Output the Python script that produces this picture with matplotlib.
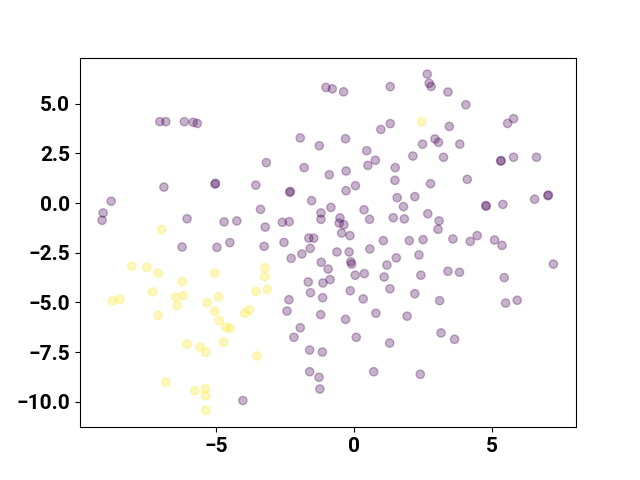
import numpy as np
import matplotlib
matplotlib.use("Agg")
import matplotlib.pyplot as plt

# class 0 points (purple)
x0 = [-7.03, -6.81, -6.14, -5.82, -5.67, -6.88, -5.03, -5.01, -8.79, -9.08,
      -9.12, -6.04, -4.70, -4.24, -4.49, -6.22, -4.96, -1.01, -0.78, -0.37,
      1.32, 1.32, 0.98, -1.94, -0.30, -1.25, 0.47, 0.78, 0.51, 2.14,
      -3.17, -1.80, 1.50, -0.28, -0.89, 1.49, -3.55, 0.06, -0.28, -2.32,
      -2.30, -1.53, 1.57, 2.21, -3.38, -0.83, 0.37, 1.80, -1.19, -1.19,
      -0.50, -0.36, -0.53, -3.21, -2.59, -2.34, 0.57, 1.43, 1.83, -0.44,
      -0.14, -1.63, -1.45, -2.53, -3.25, 1.07, 2.01, -2.27, -1.88, -1.58,
      -0.61, -0.17, -0.11, -0.08, 0.58, 1.54, -1.18, -0.93, 1.20, 0.05,
      0.38, 1.10, -1.65, -1.12, -0.86, -1.57, -0.13, 1.31, 2.21, -1.13,
      0.34, -2.35, -2.42, -1.20, -0.30, 0.80, 1.93, -1.94, -2.17, 0.09,
      1.30, -1.60, -1.14, -1.60, -1.26, -1.23, 0.72, -4.02, 2.66, 2.73,
      2.80, 3.41, 4.06, 3.46, 5.57, 5.79, 2.94, 3.07, 2.49, 3.84,
      3.25, 5.32, 5.34, 5.79, 6.62, 2.78, 4.11, 4.78, 4.80, 5.40,
      6.55, 7.03, 7.05, 2.68, 3.09, 3.05, 2.51, 3.59, 4.22, 4.47,
      5.10, 5.37, 2.36, 2.43, 3.41, 3.83, 5.45, 7.23, 3.11, 5.50,
      5.92, 3.16, 3.65, 2.41]
y0 = [4.09, 4.09, 4.09, 4.06, 4.00, 0.80, 0.95, 0.99, 0.09, -0.50,
      -0.87, -0.79, -0.95, -0.90, -1.99, -2.21, -2.23, 5.81, 5.74, 5.59,
      5.85, 3.99, 3.70, 3.27, 3.23, 2.88, 2.63, 2.15, 1.89, 2.36,
      2.03, 1.78, 1.78, 1.61, 1.42, 1.14, 0.90, 0.87, 0.62, 0.54,
      0.58, 0.12, 0.27, 0.32, -0.32, -0.22, -0.34, -0.18, -0.50, -0.82,
      -0.75, -1.09, -1.01, -1.21, -0.97, -0.94, -0.82, -0.74, -0.80, -1.51,
      -1.64, -1.76, -1.77, -1.98, -2.18, -1.89, -1.89, -2.78, -2.56, -2.28,
      -2.46, -2.46, -2.95, -3.07, -2.31, -2.76, -2.98, -3.32, -3.12, -3.63,
      -3.55, -3.72, -3.97, -4.02, -3.85, -4.51, -4.41, -4.31, -4.56, -4.76,
      -4.82, -4.86, -5.43, -5.61, -5.85, -5.54, -5.69, -6.27, -6.75, -6.75,
      -7.04, -7.39, -7.49, -8.48, -8.76, -9.35, -8.48, -9.93, 6.48, 6.02,
      5.86, 5.58, 4.94, 3.85, 4.00, 4.24, 3.22, 3.05, 2.96, 2.96,
      2.30, 2.11, 2.13, 2.30, 2.30, 0.97, 1.19, -0.13, -0.16, -0.07,
      0.19, 0.37, 0.40, -0.54, -0.90, -1.32, -1.84, -1.81, -1.93, -1.64,
      -1.86, -2.13, -2.61, -3.63, -3.43, -3.48, -3.75, -3.07, -4.91, -5.03,
      -4.89, -6.53, -6.85, -8.61]

# class 1 points (yellow)
x1 = [2.46, -6.96, -3.22, -3.23, -3.54, -3.14, -3.78, -3.95, -3.51, -8.05,
      -7.50, -7.09, -5.04, -6.22, -7.29, -6.46, -6.18, -6.40, -8.74, -8.47,
      -5.32, -4.90, -7.09, -5.04, -4.88, -4.63, -4.48, -6.05, -5.55, -5.36,
      -4.72, -6.81, -5.76, -5.38, -5.37, -5.36]
y1 = [4.09, -1.34, -3.25, -3.70, -4.44, -4.34, -5.38, -5.54, -7.69, -3.18,
      -3.23, -3.53, -3.53, -3.95, -4.47, -4.74, -4.66, -5.16, -4.92, -4.84,
      -5.01, -4.72, -5.64, -5.44, -5.90, -6.25, -6.30, -7.09, -7.24, -7.50,
      -7.00, -9.01, -9.43, -9.33, -9.68, -10.42]

x = np.array(x0 + x1)
y = np.array(y0 + y1)
labels = np.array([0] * len(x0) + [1] * len(x1))

plt.rcParams['font.family'] = ['Roboto', 'DejaVu Sans']
plt.rcParams['font.weight'] = 'bold'

fig, ax = plt.subplots(figsize=(6.4, 4.8), dpi=100)
ax.scatter(x, y, c=labels, cmap='viridis', alpha=0.3)
ax.set_xlim(-9.92, 8.05)
ax.set_ylim(-11.27, 7.31)
ax.set_xticks([-5, 0, 5])
ax.tick_params(labelsize=15)
for lab in ax.get_xticklabels() + ax.get_yticklabels():
    lab.set_fontweight('bold')

fig.savefig("out.png")
